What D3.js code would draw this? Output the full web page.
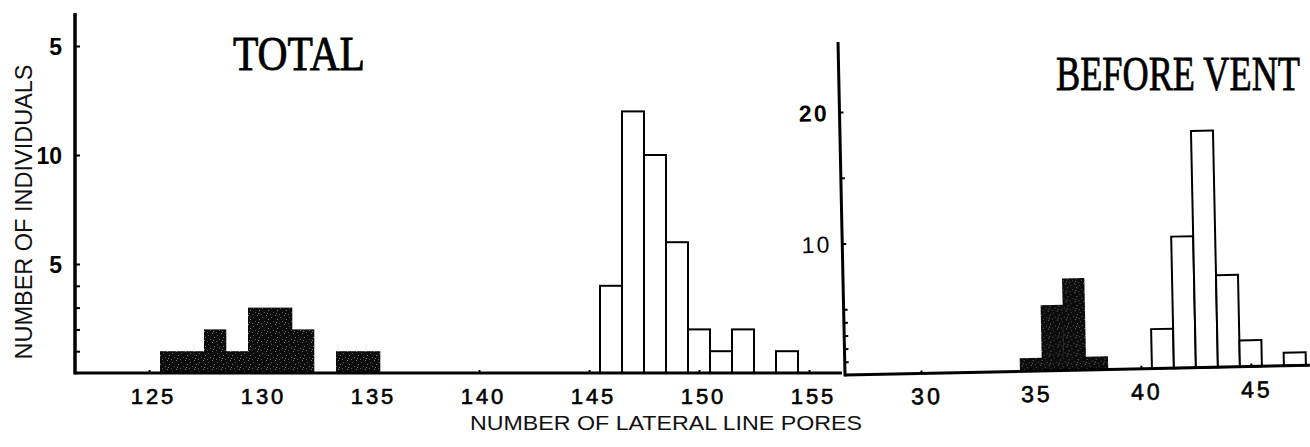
<!DOCTYPE html>
<html>
<head>
<meta charset="utf-8">
<script src="https://cdn.jsdelivr.net/npm/d3@7"></script>
<style>
  html, body { margin: 0; padding: 0; background: #fff; }
  svg { display: block; }
  .tick line { stroke: #000; stroke-width: 2; }
</style>
</head>
<body>
<svg id="chart" width="1310" height="447"></svg>
<script>
// ---------- data ----------
const totalDarkCats   = [126, 127, 128, 129, 130, 131, 132, 133, 134, 135];
const totalDarkVals   = [1, 1, 2, 1, 3, 3, 2, 0, 1, 1];
const totalLightCats  = [146, 147, 148, 149, 150, 151, 152, 153, 154];
const totalLightVals  = [4, 12, 10, 6, 2, 1, 2, 0, 1];
const ventDarkCats    = [35, 36, 37, 38];
const ventDarkVals    = [1, 5, 7, 1];
const ventLightCats   = [41, 42, 43, 44, 45, 46, 47];
const ventLightVals   = [3, 10, 18, 7, 2, 0, 1];
const totalXTicks     = [125, 130, 135, 140, 145, 150, 155];
const ventXTicks      = [30, 35, 40, 45];
const totalYTicks     = [5, 10, 15];
const totalYLabels    = ["5", "10", "5"];
const totalYMinor     = [1, 2, 3, 4];
const ventYTicks      = [10, 20];
const ventYLabels     = ["10", "20"];
const ventYMinor      = [1, 2, 3, 4, 5, 15];
const titleTotal      = "TOTAL";
const titleVent       = "BEFORE VENT";
const yTitle          = "NUMBER OF INDIVIDUALS";
const xTitle          = "NUMBER OF LATERAL LINE PORES";

const svg = d3.select("#chart");

// stipple pattern for the dark bars
const defs = svg.append("defs");
const pat = defs.append("pattern").attr("id", "stip").attr("patternUnits", "userSpaceOnUse")
  .attr("width", 9).attr("height", 9);
pat.append("rect").attr("width", 9).attr("height", 9).attr("fill", "#0c0c0c");
[[1,2],[5,0],[3,6],[7,4],[0,8],[6,7]].forEach(([px,py], i) => {
  pat.append("rect").attr("x", px).attr("y", py).attr("width", 1).attr("height", 1)
    .attr("fill", i % 2 ? "#777" : "#555");
});

const tickFont = "'Liberation Sans', Arial, sans-serif";
const serifFont = "'Liberation Serif', 'Times New Roman', serif";

// ---------- left panel: TOTAL ----------
const xL = d3.scaleLinear().domain([125, 155]).range([149, 809]);
const yL = d3.scaleLinear().domain([0, 15]).range([373, 46]);
const gL = svg.append("g");

const xLmin = xL.invert(75), xLmax = xL.invert(842);
const yLmax = yL.invert(13);

const bw = d => xL(d + 0.5) - xL(d - 0.5);
gL.selectAll("rect.dark").data(totalDarkCats.map((c, i) => ({c, v: totalDarkVals[i]})).filter(d => d.v > 0))
  .join("rect").attr("class", "dark")
  .attr("x", d => xL(d.c - 0.5)).attr("width", d => bw(d.c) + 0.3)
  .attr("y", d => yL(d.v)).attr("height", d => yL(0) - yL(d.v))
  .attr("fill", "url(#stip)");
gL.selectAll("rect.light").data(totalLightCats.map((c, i) => ({c, v: totalLightVals[i]})).filter(d => d.v > 0))
  .join("rect").attr("class", "light")
  .attr("x", d => xL(d.c - 0.5)).attr("width", d => bw(d.c))
  .attr("y", d => yL(d.v)).attr("height", d => yL(0) - yL(d.v))
  .attr("fill", "#fff").attr("stroke", "#000").attr("stroke-width", 2);

gL.append("line").attr("x1", xL(xLmin)).attr("x2", xL(xLmax)).attr("y1", yL(0)).attr("y2", yL(0))
  .attr("stroke", "#000").attr("stroke-width", 3);
gL.append("line").attr("x1", 75).attr("x2", 75).attr("y1", yL(yLmax)).attr("y2", yL(0) + 1.5)
  .attr("stroke", "#000").attr("stroke-width", 3.5);

gL.append("g").attr("transform", "translate(75,0)")
  .call(d3.axisRight(yL).tickValues(totalYTicks.concat(totalYMinor)).tickSize(5).tickFormat(""))
  .call(g => g.select(".domain").remove());
gL.append("g").attr("transform", "translate(62,0)")
  .call(d3.axisLeft(yL).tickValues(totalYTicks).tickSize(0).tickPadding(0)
    .tickFormat((d, i) => totalYLabels[i]))
  .call(g => g.select(".domain").remove())
  .call(g => g.selectAll("text").attr("font-family", tickFont).attr("font-size", 23)
    .attr("font-weight", "bold").attr("fill", "#000").attr("dy", "0.36em"));

gL.append("g").attr("transform", `translate(0,${yL(0)})`)
  .call(d3.axisTop(xL).tickValues(totalXTicks).tickSize(3).tickFormat(""))
  .call(g => g.select(".domain").remove());
gL.append("g").attr("transform", `translate(4,${yL(0)})`)
  .call(d3.axisBottom(xL).tickValues(totalXTicks).tickSize(0).tickPadding(0)
    .tickFormat(d => String(d)))
  .call(g => g.select(".domain").remove())
  .call(g => g.selectAll("text").attr("font-family", tickFont).attr("font-size", 22)
    .attr("letter-spacing", "3px").attr("fill", "#000").attr("stroke", "#000")
    .attr("stroke-width", 0.6).attr("dy", null).attr("y", 31));

gL.append("text").attr("transform", "translate(233,70) scale(1,1.2)").text(titleTotal)
  .attr("font-family", serifFont).attr("font-size", 40)
  .attr("textLength", 132).attr("lengthAdjust", "spacingAndGlyphs").attr("fill", "#000")
  .attr("stroke", "#000").attr("stroke-width", 0.7);

// ---------- right panel: BEFORE VENT ----------
const xR = d3.scaleLinear().domain([30, 45]).range([921, 1251]);
const yR = d3.scaleLinear().domain([0, 20]).range([375, 112]);
const gR = svg.append("g").attr("transform", "rotate(-1.2,845,375)");
const bwR = d => xR(d + 0.5) - xR(d - 0.5);

gR.selectAll("rect.dark").data(ventDarkCats.map((c, i) => ({c, v: ventDarkVals[i]})).filter(d => d.v > 0))
  .join("rect").attr("class", "dark")
  .attr("x", d => xR(d.c - 0.5)).attr("width", d => bwR(d.c) + 0.3)
  .attr("y", d => yR(d.v)).attr("height", d => yR(0) - yR(d.v))
  .attr("fill", "url(#stip)");
gR.selectAll("rect.light").data(ventLightCats.map((c, i) => ({c, v: ventLightVals[i]})).filter(d => d.v > 0))
  .join("rect").attr("class", "light")
  .attr("x", d => xR(d.c - 0.5)).attr("width", d => bwR(d.c))
  .attr("y", d => yR(d.v)).attr("height", d => yR(0) - yR(d.v))
  .attr("fill", "#fff").attr("stroke", "#000").attr("stroke-width", 2);

gR.append("line").attr("x1", 845).attr("x2", 1320).attr("y1", yR(0)).attr("y2", yR(0))
  .attr("stroke", "#000").attr("stroke-width", 3);
gR.append("line").attr("x1", 845).attr("x2", 845).attr("y1", 42).attr("y2", yR(0) + 1.5)
  .attr("stroke", "#000").attr("stroke-width", 3);

gR.append("g").attr("transform", "translate(845,0)")
  .call(d3.axisRight(yR).tickValues(ventYTicks.concat(ventYMinor)).tickSize(4).tickFormat(""))
  .call(g => g.select(".domain").remove());
gR.append("g").attr("transform", "translate(834,0)")
  .call(d3.axisLeft(yR).tickValues(ventYTicks).tickSize(0).tickPadding(0)
    .tickFormat((d, i) => ventYLabels[i]))
  .call(g => g.select(".domain").remove())
  .call(g => g.selectAll("text").attr("font-family", tickFont).attr("font-size", 23)
    .attr("letter-spacing", "2px").attr("fill", "#000").attr("dy", "0.36em")
    .attr("font-weight", d => d === 20 ? "bold" : "normal"));

gR.append("g").attr("transform", `translate(0,${yR(0)})`)
  .call(d3.axisTop(xR).tickValues(ventXTicks).tickSize(3).tickFormat(""))
  .call(g => g.select(".domain").remove());
gR.append("g").attr("transform", `translate(5,${yR(0)})`)
  .call(d3.axisBottom(xR).tickValues(ventXTicks).tickSize(0).tickPadding(0)
    .tickFormat(d => String(d)))
  .call(g => g.select(".domain").remove())
  .call(g => g.selectAll("text").attr("font-family", tickFont).attr("font-size", 23)
    .attr("letter-spacing", "3px").attr("fill", "#000").attr("stroke", "#000")
    .attr("stroke-width", 0.6).attr("dy", null).attr("y", 31));

svg.append("text").attr("transform", "translate(1056,90) scale(1,1.32)").text(titleVent)
  .attr("font-family", serifFont).attr("font-size", 36)
  .attr("textLength", 244).attr("lengthAdjust", "spacingAndGlyphs").attr("fill", "#000")
  .attr("stroke", "#000").attr("stroke-width", 0.6);

// ---------- axis titles ----------
svg.append("text").attr("transform", "translate(32,212) rotate(-90)")
  .attr("text-anchor", "middle").text(yTitle)
  .attr("font-family", tickFont).attr("font-size", 23)
  .attr("textLength", 295).attr("lengthAdjust", "spacingAndGlyphs").attr("fill", "#111");
svg.append("text").attr("x", 470).attr("y", 430).text(xTitle)
  .attr("font-family", tickFont).attr("font-size", 21)
  .attr("textLength", 392).attr("lengthAdjust", "spacingAndGlyphs").attr("fill", "#111");
</script>
</body>
</html>
